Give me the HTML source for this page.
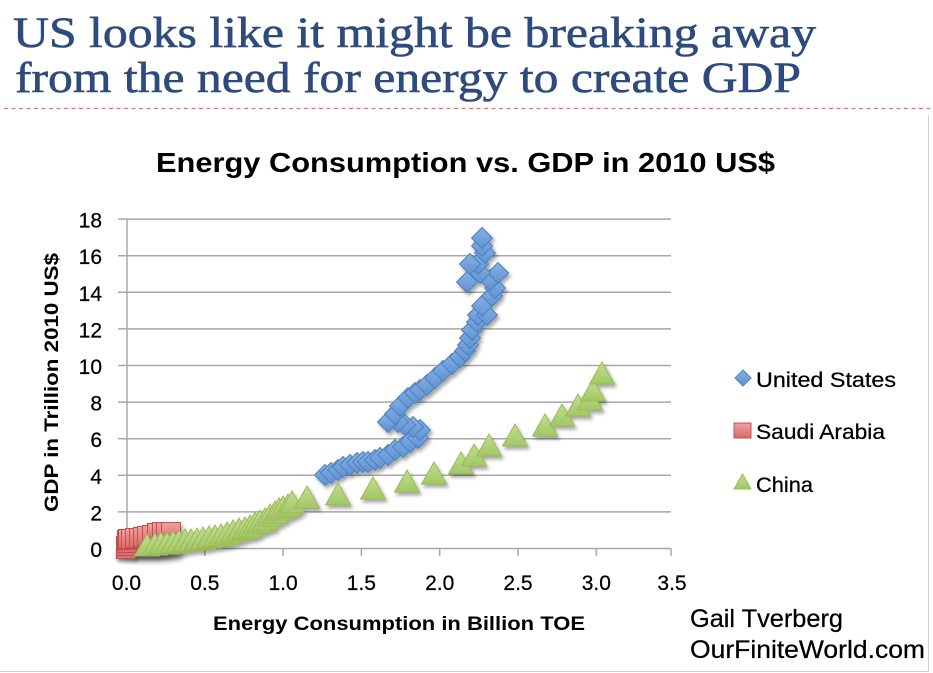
<!DOCTYPE html>
<html>
<head>
<meta charset="utf-8">
<style>
  html,body{margin:0;padding:0;background:#fff;}
  svg{display:block;}
  .ax{font-family:"Liberation Sans",sans-serif;font-size:21px;fill:#000;stroke:#000;stroke-width:0.25;}
  .axb{font-family:"Liberation Sans",sans-serif;font-weight:bold;fill:#000;}
</style>
</head>
<body>
<svg width="933" height="673" viewBox="0 0 933 673" xmlns="http://www.w3.org/2000/svg">
  <defs>
    <filter id="sh" x="-50%" y="-50%" width="200%" height="200%">
      <feDropShadow dx="2" dy="3" stdDeviation="1.8" flood-color="#000" flood-opacity="0.35"/>
    </filter>
    <filter id="blur" x="-50%" y="-50%" width="200%" height="200%">
      <feGaussianBlur stdDeviation="3"/>
    </filter>
    <linearGradient id="gb" x1="0" y1="0" x2="0" y2="1">
      <stop offset="0" stop-color="#86b1e6"/>
      <stop offset="1" stop-color="#5f92d2"/>
    </linearGradient>
    <linearGradient id="gg" x1="0" y1="0" x2="0" y2="1">
      <stop offset="0" stop-color="#c2dd8e"/>
      <stop offset="1" stop-color="#a2c766"/>
    </linearGradient>
    <linearGradient id="gr" x1="0" y1="0" x2="0" y2="1">
      <stop offset="0" stop-color="#f0a0a0"/>
      <stop offset="1" stop-color="#d86a6a"/>
    </linearGradient>
    <path id="dia" d="M0,-10.5 L10.5,0 L0,10.5 L-10.5,0 Z" fill="url(#gb)" stroke="#4f81bd" stroke-width="1"/>
    <path id="tri" d="M0,-12 L12.5,10 L-12.5,10 Z" fill="url(#gg)" stroke="#9bbb59" stroke-width="1"/>
    <rect id="sq" x="-9.5" y="-9.5" width="19" height="19" fill="url(#gr)" stroke="#c0504d" stroke-width="1"/>
  </defs>

  <text x="13" y="47" font-family="'Liberation Serif',serif" font-size="43" fill="#2e4b7d" stroke="#2e4b7d" stroke-width="0.6" textLength="803" lengthAdjust="spacingAndGlyphs">US looks like it might be breaking away</text>
  <text x="15" y="92" font-family="'Liberation Serif',serif" font-size="43" fill="#2e4b7d" stroke="#2e4b7d" stroke-width="0.6" textLength="786" lengthAdjust="spacingAndGlyphs">from the need for energy to create GDP</text>
  <line x1="4" y1="108.5" x2="933" y2="108.5" stroke="#d8796c" stroke-width="1.3" stroke-dasharray="4,3.5"/>

  <line x1="928.5" y1="115" x2="928.5" y2="672" stroke="#cfcfcf" stroke-width="1"/>
  <line x1="0" y1="671.5" x2="929" y2="671.5" stroke="#cfcfcf" stroke-width="1"/>

  <text class="axb" x="156" y="172" font-size="28" textLength="619" lengthAdjust="spacingAndGlyphs">Energy Consumption vs. GDP in 2010 US$</text>

  <g stroke="#a8a8a8" stroke-width="1.5">
    <line x1="118" y1="219.1" x2="671" y2="219.1"/>
    <line x1="118" y1="255.7" x2="671" y2="255.7"/>
    <line x1="118" y1="292.3" x2="671" y2="292.3"/>
    <line x1="118" y1="328.9" x2="671" y2="328.9"/>
    <line x1="118" y1="365.5" x2="671" y2="365.5"/>
    <line x1="118" y1="402.1" x2="671" y2="402.1"/>
    <line x1="118" y1="438.7" x2="671" y2="438.7"/>
    <line x1="118" y1="475.3" x2="671" y2="475.3"/>
    <line x1="118" y1="511.9" x2="671" y2="511.9"/>
    <line x1="118" y1="548.5" x2="671" y2="548.5"/>
    <line x1="127" y1="219" x2="127" y2="556"/>
    <line x1="204.8" y1="548.5" x2="204.8" y2="556"/>
    <line x1="283.1" y1="548.5" x2="283.1" y2="556"/>
    <line x1="361.4" y1="548.5" x2="361.4" y2="556"/>
    <line x1="439.7" y1="548.5" x2="439.7" y2="556"/>
    <line x1="518" y1="548.5" x2="518" y2="556"/>
    <line x1="596.3" y1="548.5" x2="596.3" y2="556"/>
    <line x1="671" y1="548.5" x2="671" y2="556"/>
  </g>

  <g class="ax" text-anchor="end">
    <text x="102" y="557">0</text>
    <text x="102" y="520.4">2</text>
    <text x="102" y="483.8">4</text>
    <text x="102" y="447.2">6</text>
    <text x="102" y="410.6">8</text>
    <text x="102" y="374">10</text>
    <text x="102" y="337.4">12</text>
    <text x="102" y="300.8">14</text>
    <text x="102" y="264.2">16</text>
    <text x="102" y="227.6">18</text>
  </g>
  <g class="ax" text-anchor="middle">
    <text x="126.5" y="590">0.0</text>
    <text x="204.8" y="590">0.5</text>
    <text x="283.1" y="590">1.0</text>
    <text x="361.4" y="590">1.5</text>
    <text x="439.7" y="590">2.0</text>
    <text x="518" y="590">2.5</text>
    <text x="596.3" y="590">3.0</text>
    <text x="672" y="590">3.5</text>
  </g>

  <text class="axb" font-size="19" text-anchor="middle" transform="translate(58,382.5) rotate(-90)" textLength="259" lengthAdjust="spacingAndGlyphs">GDP in Trillion 2010 US$</text>
  <text class="axb" x="213" y="630" font-size="19" textLength="372" lengthAdjust="spacingAndGlyphs">Energy Consumption in Billion TOE</text>

  <ellipse cx="150" cy="556" rx="34" ry="5" fill="#000" opacity="0.55" filter="url(#blur)"/>

  <g filter="url(#sh)">
    <use href="#dia" x="325" y="475"/>
    <use href="#dia" x="331" y="473"/>
    <use href="#dia" x="338" y="470"/>
    <use href="#dia" x="343" y="467"/>
    <use href="#dia" x="350" y="465"/>
    <use href="#dia" x="357" y="463"/>
    <use href="#dia" x="363" y="462"/>
    <use href="#dia" x="368" y="462"/>
    <use href="#dia" x="375" y="460"/>
    <use href="#dia" x="380" y="458"/>
    <use href="#dia" x="388" y="455"/>
    <use href="#dia" x="395" y="450"/>
    <use href="#dia" x="403" y="447"/>
    <use href="#dia" x="410" y="442"/>
    <use href="#dia" x="418" y="438"/>
    <use href="#dia" x="420" y="430"/>
    <use href="#dia" x="413" y="427"/>
    <use href="#dia" x="405" y="425"/>
    <use href="#dia" x="398" y="422"/>
    <use href="#dia" x="388" y="422"/>
    <use href="#dia" x="395" y="414"/>
    <use href="#dia" x="400" y="406"/>
    <use href="#dia" x="408" y="398"/>
    <use href="#dia" x="415" y="393"/>
    <use href="#dia" x="420" y="390"/>
    <use href="#dia" x="427" y="385"/>
    <use href="#dia" x="435" y="378"/>
    <use href="#dia" x="443" y="371"/>
    <use href="#dia" x="452" y="364"/>
    <use href="#dia" x="460" y="357"/>
    <use href="#dia" x="465" y="351"/>
    <use href="#dia" x="468" y="345"/>
    <use href="#dia" x="470" y="338"/>
    <use href="#dia" x="472" y="330"/>
    <use href="#dia" x="477" y="322"/>
    <use href="#dia" x="478" y="315"/>
    <use href="#dia" x="487" y="315"/>
    <use href="#dia" x="482" y="306"/>
    <use href="#dia" x="492" y="296"/>
    <use href="#dia" x="495" y="288"/>
    <use href="#dia" x="490" y="280"/>
    <use href="#dia" x="498" y="273"/>
    <use href="#dia" x="467" y="282"/>
    <use href="#dia" x="480" y="273"/>
    <use href="#dia" x="478" y="264"/>
    <use href="#dia" x="470" y="264"/>
    <use href="#dia" x="485" y="253"/>
    <use href="#dia" x="482" y="246"/>
    <use href="#dia" x="482" y="238"/>
  </g>

  <g filter="url(#sh)">
    <use href="#sq" x="126" y="549"/>
    <use href="#sq" x="126" y="546"/>
    <use href="#sq" x="127" y="543"/>
    <use href="#sq" x="127" y="540"/>
    <use href="#sq" x="128" y="539"/>
    <use href="#sq" x="131" y="539"/>
    <use href="#sq" x="135" y="538"/>
    <use href="#sq" x="139" y="538"/>
    <use href="#sq" x="143" y="537"/>
    <use href="#sq" x="147" y="536"/>
    <use href="#sq" x="152" y="535"/>
    <use href="#sq" x="157" y="533"/>
    <use href="#sq" x="162" y="532"/>
    <use href="#sq" x="166" y="532"/>
    <use href="#sq" x="171" y="532"/>
  </g>

  <g filter="url(#sh)">
    <use href="#tri" x="147" y="546"/>
    <use href="#tri" x="155" y="545"/>
    <use href="#tri" x="161" y="544"/>
    <use href="#tri" x="167" y="544"/>
    <use href="#tri" x="173" y="543"/>
    <use href="#tri" x="179" y="542"/>
    <use href="#tri" x="185" y="541"/>
    <use href="#tri" x="191" y="541"/>
    <use href="#tri" x="197" y="540"/>
    <use href="#tri" x="203" y="539"/>
    <use href="#tri" x="209" y="538"/>
    <use href="#tri" x="215" y="537"/>
    <use href="#tri" x="221" y="536"/>
    <use href="#tri" x="227" y="534"/>
    <use href="#tri" x="233" y="532"/>
    <use href="#tri" x="239" y="530"/>
    <use href="#tri" x="245" y="529"/>
    <use href="#tri" x="250" y="527"/>
    <use href="#tri" x="255" y="524"/>
    <use href="#tri" x="260" y="522"/>
    <use href="#tri" x="265" y="520"/>
    <use href="#tri" x="270" y="516"/>
    <use href="#tri" x="275" y="513"/>
    <use href="#tri" x="279" y="510"/>
    <use href="#tri" x="283" y="508"/>
    <use href="#tri" x="288" y="506"/>
    <use href="#tri" x="292" y="503"/>
    <use href="#tri" x="307" y="498"/>
    <use href="#tri" x="338" y="495"/>
    <use href="#tri" x="373" y="489"/>
    <use href="#tri" x="407" y="482"/>
    <use href="#tri" x="434" y="474"/>
    <use href="#tri" x="461" y="464"/>
    <use href="#tri" x="474" y="456"/>
    <use href="#tri" x="489" y="446"/>
    <use href="#tri" x="515" y="436"/>
    <use href="#tri" x="545" y="426"/>
    <use href="#tri" x="562" y="416"/>
    <use href="#tri" x="578" y="406"/>
    <use href="#tri" x="590" y="400"/>
    <use href="#tri" x="593" y="391"/>
    <use href="#tri" x="602" y="374"/>
  </g>

  <path d="M743,370 L751,378 L743,386 L735,378 Z" fill="url(#gb)" stroke="#4f81bd" stroke-width="1"/>
  <text class="ax" x="756" y="387" textLength="140" lengthAdjust="spacingAndGlyphs">United States</text>
  <rect x="734" y="423" width="17" height="15" fill="url(#gr)" stroke="#c0504d" stroke-width="1"/>
  <text class="ax" x="756" y="439" textLength="129" lengthAdjust="spacingAndGlyphs">Saudi Arabia</text>
  <path d="M742.5,474 L751,489 L734,489 Z" fill="url(#gg)" stroke="#9bbb59" stroke-width="1"/>
  <text class="ax" x="756" y="492" textLength="57" lengthAdjust="spacingAndGlyphs">China</text>

  <text x="690" y="627" font-family="'Liberation Sans',sans-serif" font-size="25" fill="#000" stroke="#000" stroke-width="0.25" textLength="153" lengthAdjust="spacingAndGlyphs">Gail Tverberg</text>
  <text x="690" y="658" font-family="'Liberation Sans',sans-serif" font-size="25" fill="#000" stroke="#000" stroke-width="0.25" textLength="235" lengthAdjust="spacingAndGlyphs">OurFiniteWorld.com</text>
</svg>
</body>
</html>
